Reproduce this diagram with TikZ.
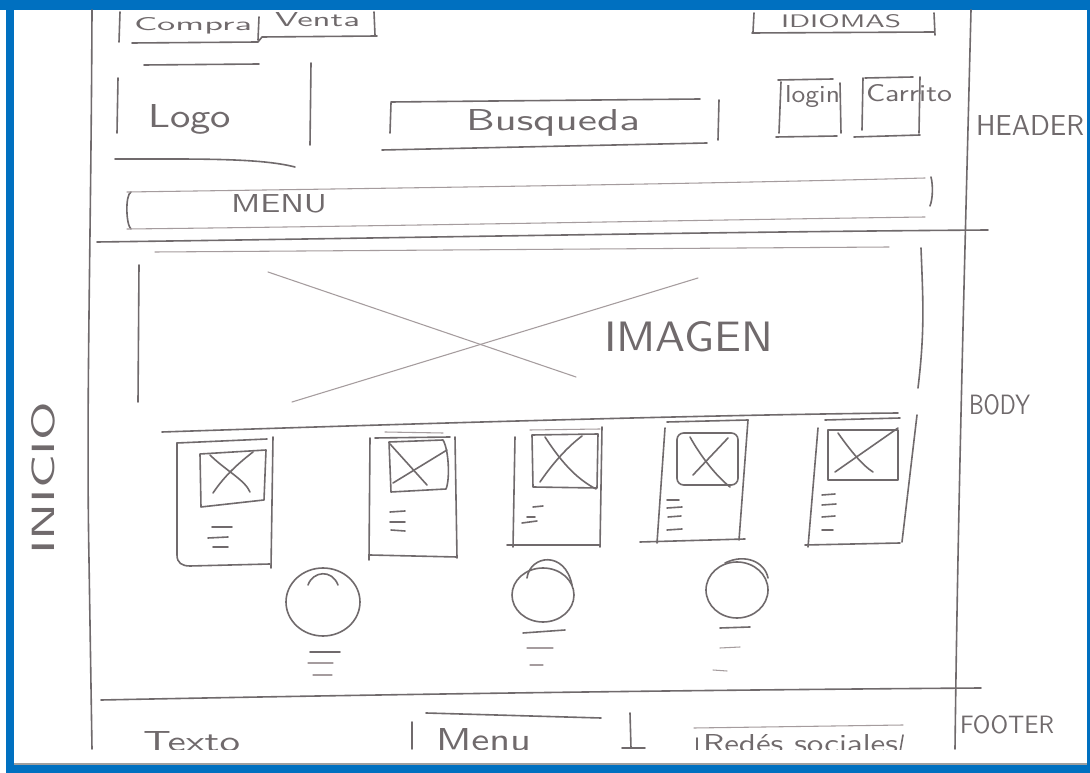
\documentclass[tikz,border=0pt]{standalone}
\usepackage{graphicx}
\definecolor{frameblue}{RGB}{0,112,192}
\definecolor{pencil}{RGB}{112,106,108}
\definecolor{pencillight}{RGB}{165,156,158}
\newdimen\pxu \pxu=0.75pt
\newcommand{\hw}[3]{\resizebox{#1\pxu}{#2\pxu}{#3}}
\tikzset{
  pen/.style={draw=pencil, line width=1.2pt, line cap=round, line join=round},
  penl/.style={draw=pencillight, line width=0.8pt, line cap=round, line join=round},
  hand/.style={inner sep=0pt, outer sep=0pt, text=pencil, font=\sffamily, anchor=base west},
}
\begin{document}
\begin{tikzpicture}[x=0.75pt,y=-0.75pt]
\useasboundingbox (0,0) rectangle (1090,773);
% frame
\fill[white] (0,0) rectangle (1090,773);
\fill[frameblue] (0,0) rectangle (1090,10);
\fill[frameblue] (6,0) rectangle (14,773);
\fill[frameblue] (1087,0) rectangle (1090,773);
\fill[frameblue] (6,765) rectangle (1090,773);
\draw[gray!75, line width=1pt] (14,764) -- (1087,764);

\begin{scope}
\clip (14,10) rectangle (1087,749);
% main structure lines
\draw[pen] (92,10) .. controls (91,250) and (86,400) .. (89,560) -- (92,749);
\draw[pen] (971,10) .. controls (965,250) and (958,500) .. (955,749);
\draw[pen] (97,242) .. controls (400,238) and (700,232) .. (988,230);
\draw[pen] (101,700) .. controls (400,694) and (700,690) .. (981,688);

% Compra | Venta
\draw[pen] (120,12) -- (119,42);
\draw[pen] (132,43) -- (258,42) -- (262,37) -- (377,36);
\draw[pen] (259,17) -- (258,40);
\draw[pen] (374,12) -- (375,35);
\node[hand] (tcompra) at (134,31) {\hw{118}{13}{Compra}};
\node[hand] (tventa) at (275,27) {\hw{85}{14}{Venta}};

% IDIOMAS
\draw[pen] (754,13) -- (753,32);
\draw[pen] (752,33) -- (934,32);
\draw[pen] (934,13) -- (935,35);
\node[hand] (tidiomas) at (781,28) {\hw{120}{13}{IDIOMAS}};

% Logo
\draw[pen] (144,65) -- (259,64);
\draw[pen] (118,78) -- (117,133);
\draw[pen] (311,63) -- (310,145);
\draw[pen] (115,159) .. controls (200,159) and (260,158) .. (295,167);
\node[hand] (tlogo) at (148,128) {\hw{83}{23}{Logo}};

% Busqueda
\draw[pen] (391,103) -- (390,133);
\draw[pen] (391,102) -- (700,99);
\draw[pen] (719,100) -- (718,140);
\draw[pen] (382,150) -- (707,143);
\node[hand] (tbusq) at (466,131) {\hw{174}{21}{Busqueda}};

% login
\draw[pen] (778,80) -- (833,79);
\draw[pen] (781,82) -- (779,133);
\draw[pen] (840,83) -- (841,133);
\draw[pen] (776,137) -- (837,136);
\node[hand] (tlogin) at (785,103) {\hw{55}{17}{login}};

% Carrito
\draw[pen] (865,78) -- (913,77);
\draw[pen] (863,78) -- (862,130);
\draw[pen] (920,77) -- (919,133);
\draw[pen] (854,137) -- (920,135);
\node[hand] (tcarrito) at (866,102) {\hw{86}{17}{Carrito}};

% MENU bar
\draw[pen] (131,192) .. controls (125,195) and (126,225) .. (131,229);
\draw[penl] (127,192) .. controls (400,188) and (700,184) .. (925,178);
\draw[penl] (127,229) .. controls (400,226) and (700,220) .. (925,217);
\draw[pen] (931,177) .. controls (933,185) and (933,198) .. (930,206);
\node[hand] (tmenu) at (231,213) {\hw{96}{18}{MENU}};

% section labels
\node[hand] (theader) at (976,136) {\hw{108}{20}{HEADER}};
\node[hand] (tbody) at (969,415) {\hw{61}{20}{BODY}};
\node[hand] (tfooter) at (960,733) {\hw{94}{18}{FOOTER}};
\node[hand, rotate=90] (tinicio) at (55,555) {\hw{153}{23}{INICIO}};

% IMAGEN
\draw[penl] (155,252) -- (889,247);
\draw[pen] (139,265) -- (138,402);
\draw[pen] (921,248) .. controls (923,300) and (925,330) .. (918,388);
\draw[pen] (162,432) .. controls (400,424) and (700,415) .. (898,413);
\draw[penl] (268,272) -- (576,377);
\draw[penl] (292,402) -- (698,278);
\node[hand] (timagen) at (604,352) {\hw{169}{30}{IMAGEN}};

% card 1
\draw[pen] (177,443) -- (177,555) .. controls (177,563) and (182,566) .. (190,566) -- (270,564);
\draw[pen] (177,443) -- (267,439);
\draw[pen] (273,437) -- (271,568);
\draw[pen] (200,454) -- (266,450) -- (264,500) -- (201,507) -- cycle;
\draw[pen] (213,493) .. controls (225,475) and (240,462) .. (253,452);
\draw[pen] (210,455) .. controls (225,470) and (245,480) .. (250,492);
\draw[pen] (212,527) -- (232,527);
\draw[pen] (208,538) -- (228,537);
\draw[pen] (213,547) -- (228,547);

% card 2
\draw[penl] (385,432) -- (443,433);
\draw[pen] (370,438) -- (369,560);
\draw[pen] (455,437) -- (457,558);
\draw[pen] (370,555) -- (457,557);
\draw[pen] (375,438) -- (450,437);
\draw[pen] (389,442) -- (443,440) .. controls (449,450) and (450,480) .. (446,489) -- (391,492) -- cycle;
\draw[pen] (390,444) -- (427,485);
\draw[pen] (393,483) -- (447,450);
\draw[pen] (390,512) -- (405,511);
\draw[pen] (390,522) -- (405,522);
\draw[pen] (391,530) -- (405,531);

% card 3
\draw[penl] (530,430) -- (600,429);
\draw[pen] (515,437) -- (513,547);
\draw[pen] (602,427) -- (600,547);
\draw[pen] (507,545) -- (600,545);
\draw[pen] (532,435) -- (598,434) -- (597,488) -- (533,487) -- cycle;
\draw[pen] (540,482) .. controls (555,460) and (570,445) .. (582,436);
\draw[pen] (545,437) .. controls (560,460) and (575,478) .. (596,489);
\draw[pen] (533,507) -- (543,506);
\draw[pen] (527,517) -- (535,517);
\draw[pen] (522,523) -- (537,521);

% card 4
\draw[pen] (667,422) -- (748,420);
\draw[pen] (665,428) -- (657,543);
\draw[pen] (748,420) -- (739,540);
\draw[pen] (640,542) -- (745,539);
\draw[pen, rounded corners=5] (677,433) rectangle (738,485);
\draw[pen] (690,437) .. controls (700,455) and (715,475) .. (730,487);
\draw[pen] (693,475) -- (728,438);
\draw[pen] (667,500) -- (679,500);
\draw[pen] (667,508) -- (682,507);
\draw[pen] (668,517) -- (681,516);
\draw[pen] (667,530) -- (682,529);

% card 5
\draw[pen] (825,420) -- (900,418);
\draw[pen] (818,428) -- (808,547);
\draw[pen] (917,415) -- (902,542);
\draw[pen] (805,545) -- (900,543);
\draw[pen] (828,430) rectangle (898,480);
\draw[pen] (835,472) -- (898,428);
\draw[pen] (838,433) .. controls (850,450) and (862,465) .. (873,472);
\draw[pen] (822,495) -- (835,494);
\draw[pen] (822,505) -- (836,504);
\draw[pen] (822,517) -- (835,516);
\draw[pen] (822,530) -- (833,530);

% circles
\draw[pen] (323,602) ellipse [x radius=37, y radius=34];
\draw[pen] (308,585) .. controls (313,571) and (332,569) .. (338,585);
\draw[pen] (310,652) -- (340,652);
\draw[penl] (308,663) -- (333,663);
\draw[penl] (313,675) -- (332,675);

\draw[pen] (543,595) ellipse [x radius=31, y radius=27];
\draw[pen] (527,578) .. controls (530,555) and (565,550) .. (572,585);
\draw[pen] (523,633) -- (565,630);
\draw[penl] (527,648) -- (553,648);
\draw[penl] (530,665) -- (543,665);

\draw[pen] (737,590) ellipse [x radius=31, y radius=28];
\draw[pen] (725,563) .. controls (745,553) and (765,562) .. (768,578);
\draw[pen] (720,628) -- (750,627);
\draw[penl] (720,648) -- (740,647);
\draw[penl] (713,670) -- (727,671);

% footer
\node[hand] (ttexto) at (143,752) {\hw{97}{20}{Texto}};
\draw[pen] (412,722) -- (412,749);
\draw[pen] (426,713) -- (601,718);
\draw[pen] (630,713) -- (631,748);
\draw[pen] (622,748) -- (645,748);
\node[hand] (tmenuf) at (436,750) {\hw{95}{22}{Menu}};
\draw[penl] (694,728) -- (903,725);
\draw[pen] (697,738) -- (697,752);
\draw[pen] (903,735) -- (900,752);
\node[hand] (tredes) at (703,753) {\hw{195}{18}{Redés sociales}};
\end{scope}
\end{tikzpicture}
\end{document}
